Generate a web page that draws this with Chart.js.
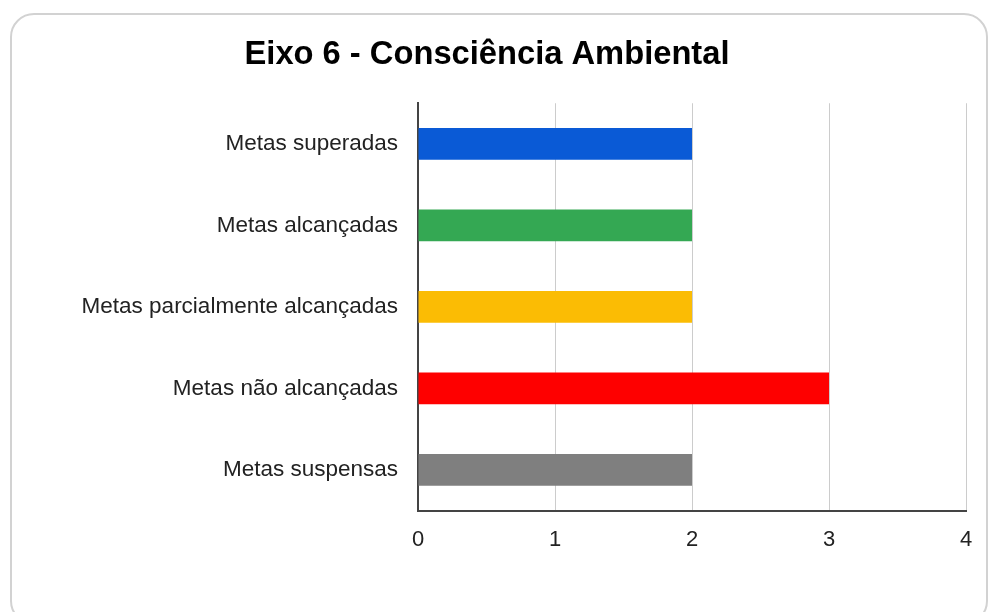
<!DOCTYPE html>
<html>
<head>
<meta charset="utf-8">
<script src="https://cdn.jsdelivr.net/npm/chart.js@4/dist/chart.umd.min.js"></script>
<style>
  html, body { margin: 0; padding: 0; background: #fff; width: 989px; height: 612px; overflow: hidden; }
  #card { position: absolute; left: 10px; top: 13px; width: 978px; height: 612px; border: 2px solid #d2d2d2; border-radius: 24px; box-sizing: border-box; }
  #wrap { position: absolute; left: 0; top: 0; width: 989px; height: 612px; }
</style>
</head>
<body>
<div id="card"></div>
<div id="wrap"><canvas id="c" width="989" height="612"></canvas></div>
<script>
const titleText = "Eixo 6 - Consciência Ambiental";
const categories = ["Metas superadas", "Metas alcançadas", "Metas parcialmente alcançadas", "Metas não alcançadas", "Metas suspensas"];
const values = [2, 2, 2, 3, 2];
const barColors = ["#0a5ad6", "#34a853", "#fbbc04", "#fe0000", "#7f7f7f"];
const xTicks = [0, 1, 2, 3, 4];

const FONT = "'Liberation Sans', Arial, sans-serif";

new Chart(document.getElementById('c'), {
  type: 'bar',
  data: {
    labels: categories,
    datasets: [{
      data: values,
      backgroundColor: barColors,
      borderWidth: 0,
      barPercentage: 0.39,
      categoryPercentage: 1
    }]
  },
  options: {
    indexAxis: 'y',
    responsive: false,
    animation: false,
    devicePixelRatio: 1,
    layout: { padding: { left: 8, right: 23, top: 0, bottom: 43 } },
    plugins: {
      legend: { display: false },
      tooltip: { enabled: false },
      title: {
        display: true,
        text: titleText,
        color: '#000',
        font: { family: FONT, size: 32.7, weight: 'bold' },
        padding: { top: 35, bottom: 29 }
      }
    },
    scales: {
      x: {
        min: xTicks[0],
        max: xTicks[xTicks.length - 1],
        afterBuildTicks: (s) => { s.ticks = xTicks.map(v => ({ value: v })); },
        grid: { color: '#cccccc', lineWidth: 1, drawTicks: false },
        border: { display: true, color: '#444', width: 2 },
        ticks: { color: '#222', font: { family: FONT, size: 22 }, padding: 16 }
      },
      y: {
        afterFit: (s) => { s.width = 410; },
        grid: { display: false, drawTicks: false },
        border: { display: true, color: '#444', width: 2 },
        ticks: { color: '#222', font: { family: FONT, size: 22.5 }, padding: 20 }
      }
    }
  }
});
</script>
</body>
</html>
